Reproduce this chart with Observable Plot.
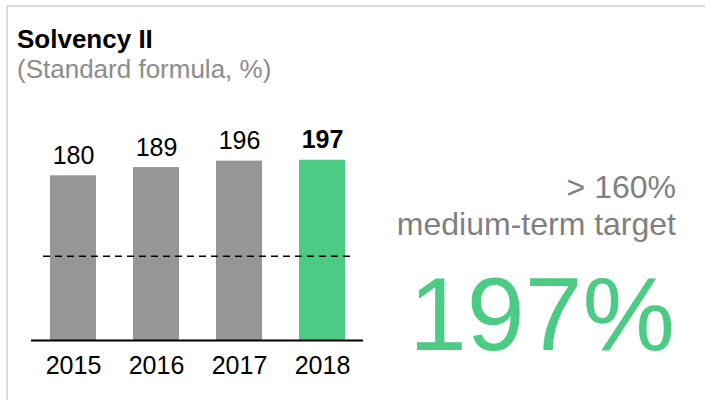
<!DOCTYPE html>
<html>
<head>
<meta charset="utf-8">
<script src="https://cdn.jsdelivr.net/npm/d3@7"></script>
<script src="https://cdn.jsdelivr.net/npm/@observablehq/plot@0.6"></script>
<style>
  html, body { margin: 0; padding: 0; background: #fff; width: 705px; height: 400px; overflow: hidden; }
  body { position: relative; font-family: "Liberation Sans", Arial, Helvetica, sans-serif; }
  .card { position: absolute; left: 6px; top: 5px; width: 760px; height: 460px;
          border-left: 2px solid #dcdcdc; border-top: 2px solid #dcdcdc; box-sizing: border-box; }
  .t { position: absolute; line-height: 1; white-space: nowrap; }
  #title { left: 17px; top: 26px; font-size: 26px; font-weight: bold; color: #000; }
  #subtitle { left: 17px; top: 56px; font-size: 26px; color: #8c8c8c; }
  .right { right: 29px; text-align: right; color: #808080; font-size: 32px; }
  #target1 { top: 171px; }
  #target2 { top: 208px; }
  #big { right: 30px; top: 262px; font-size: 104px; color: #4ccb84; text-align: right; }
  #chart { position: absolute; left: 0; top: 0; }
</style>
</head>
<body>
<div class="card"></div>
<div id="chart"></div>
<div class="t" id="title">Solvency II</div>
<div class="t" id="subtitle">(Standard formula, %)</div>
<div class="t right" id="target1">&gt; 160%</div>
<div class="t right" id="target2">medium-term target</div>
<div class="t" id="big">197%</div>
<script>
const years = ["2015", "2016", "2017", "2018"];
const ratios = [180, 189, 196, 197];
const highlightYear = "2018";
const referenceLine = 92;
const grayColor = "#969696";
const greenColor = "#4ccb84";

const data = years.map((y, i) => ({year: y, value: ratios[i]}));

const chart = Plot.plot({
  width: 705,
  height: 400,
  marginLeft: 31,
  marginRight: 342,
  marginTop: 157,
  marginBottom: 60,
  style: {fontFamily: '"Liberation Sans", Arial, sans-serif', background: "transparent"},
  x: {domain: years, paddingInner: 0.45, paddingOuter: 0.225, label: null},
  y: {domain: [0, 200], axis: null},
  marks: [
    Plot.barY(data, {x: "year", y: "value", fill: d => d.year === highlightYear ? greenColor : grayColor}),
    Plot.ruleY([referenceLine], {stroke: "#000", strokeWidth: 1.5, strokeDasharray: "7,5", insetLeft: 12, insetRight: 11}),
    Plot.ruleY([0], {stroke: "#000", strokeWidth: 2}),
    Plot.text(data.filter(d => d.year !== highlightYear), {x: "year", y: "value", text: d => String(d.value), fontSize: 25, fill: "#000", lineAnchor: "bottom", dy: -12}),
    Plot.text(data.filter(d => d.year === highlightYear), {x: "year", y: "value", text: d => String(d.value), fontSize: 25, fontWeight: "bold", fill: "#000", lineAnchor: "bottom", dy: -12}),
    Plot.axisX({tickSize: 0, tickPadding: 16, fontSize: 25, label: null, color: "#000"})
  ]
});
document.getElementById("chart").appendChild(chart);
</script>
</body>
</html>
